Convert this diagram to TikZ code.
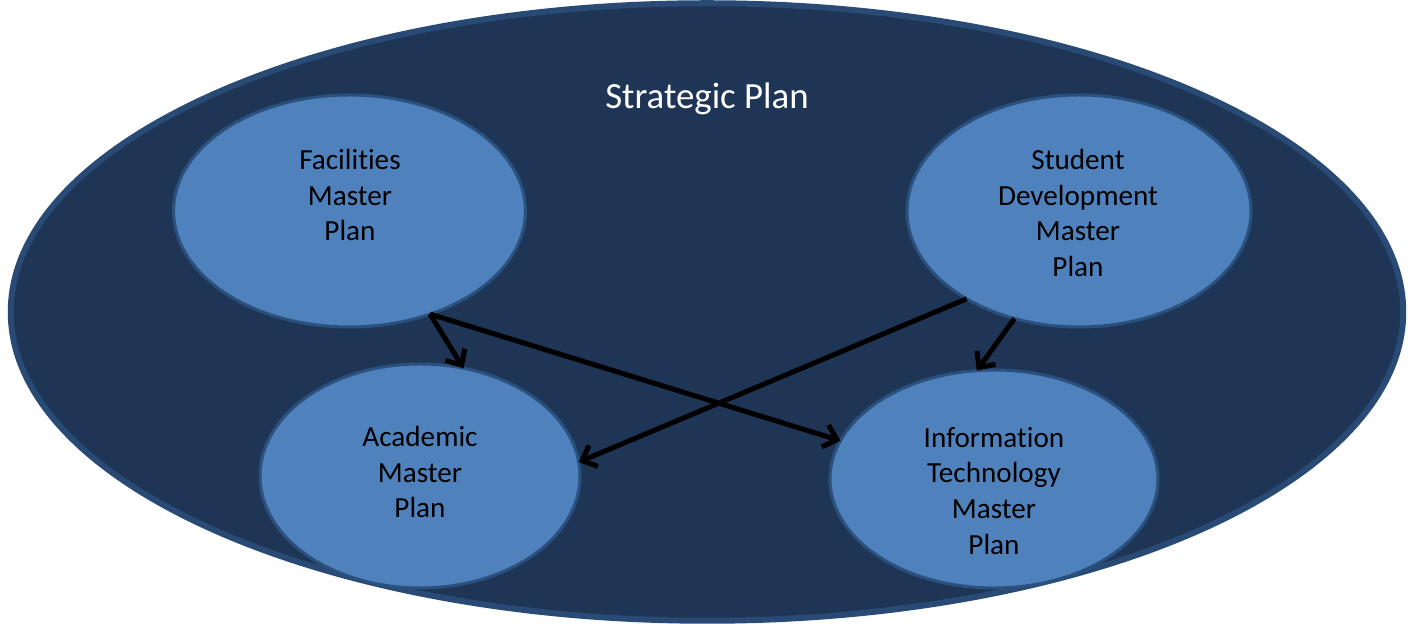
\documentclass[tikz,border=0pt]{standalone}
\usepackage{fontspec}
\setmainfont{Carlito}[Ligatures=NoCommon]
\usetikzlibrary{calc,shapes.geometric,arrows.meta}
\definecolor{navyfill}{RGB}{31,53,85}
\definecolor{navyedge}{RGB}{40,74,116}
\definecolor{planfill}{RGB}{79,129,189}
\definecolor{planedge}{RGB}{42,80,126}

\begin{document}
\begin{tikzpicture}[
	bigplan/.style={ellipse, draw=navyedge, fill=navyfill, line width=1.2mm, inner sep=0pt, outer sep=0pt},
	subplan/.style={ellipse, draw=planedge, fill=planfill, line width=0.6mm, inner sep=0pt, outer sep=0pt},
	plantext/.style={align=center, font=\fontsize{16.6}{20.4}\selectfont, text=black},
	flow/.style={line width=1mm, color=black, -{Straight Barb[length=7pt,width=13pt]}}
]
			%%%%% START %%%%%
			
			\useasboundingbox (0, 0) rectangle (28.16, 12.48);
			
			\node[bigplan, minimum width=27.85cm, minimum height=12.35cm] (strat) at (14.14, 6.24) {};
			\node[text=white, font=\fontsize{21}{25}\selectfont] (stratlbl) at (14.14, 10.5) {Strategic Plan};
			
			\node[subplan, minimum width=7.04cm, minimum height=4.64cm] (fac) at (6.99, 8.26) {};
			\node[subplan, minimum width=6.88cm, minimum height=4.64cm] (stu) at (21.58, 8.26) {};
			\node[subplan, minimum width=6.40cm, minimum height=4.48cm] (aca) at (8.40, 2.96) {};
			\node[subplan, minimum width=6.56cm, minimum height=4.36cm] (itp) at (19.88, 2.90) {};
			
			\node[plantext] (faclbl) at (7.00, 8.58) {Facilities\\Master\\Plan};
			\node[plantext] (stulbl) at (21.56, 8.22) {Student\\Development\\Master\\Plan};
			\node[plantext] (acalbl) at (8.40, 3.04) {Academic\\Master\\Plan};
			\node[plantext] (itplbl) at (19.88, 2.66) {Information\\Technology\\Master\\Plan};
			
			\draw[flow] (fac.-52) -- (aca.68);
			\draw[flow] (fac.-52) -- (itp.166);
			\draw[flow] (stu.218) -- (aca.5);
			\draw[flow] (stu.239) -- (itp.99);
			
			%%%%% END %%%%%
		\end{tikzpicture}
\end{document}
